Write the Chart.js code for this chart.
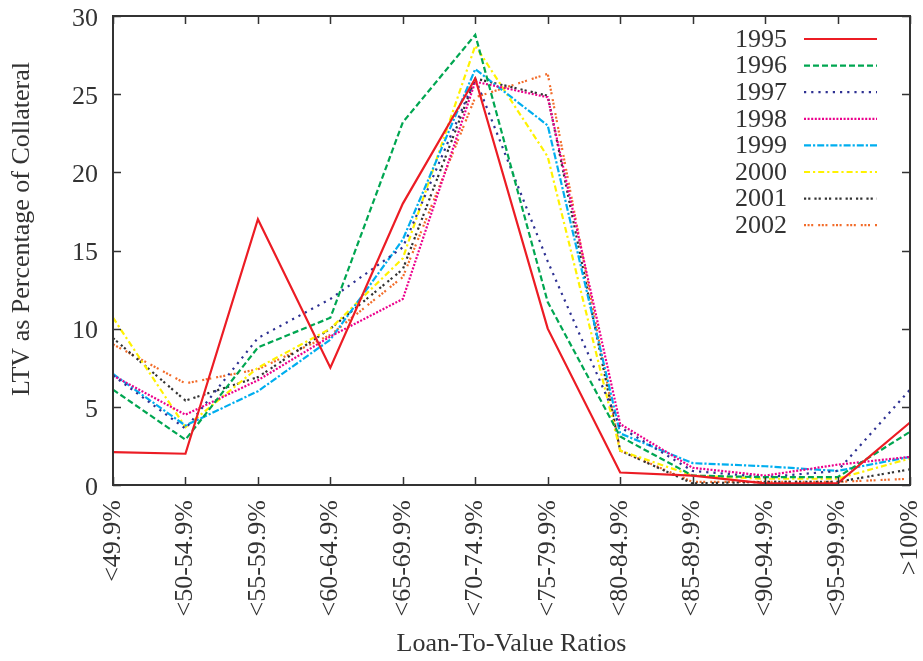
<!DOCTYPE html>
<html>
<head>
<meta charset="utf-8">
<script src="https://cdn.jsdelivr.net/npm/chart.js@4/dist/chart.umd.min.js"></script>
<style>
html,body{margin:0;padding:0;background:#fff;}
canvas{display:block;}
</style>
</head>
<body>
<canvas id="c" width="923" height="661"></canvas>
<script>
const categories = ['<49.9%','<50-54.9%','<55-59.9%','<60-64.9%','<65-69.9%','<70-74.9%','<75-79.9%','<80-84.9%','<85-89.9%','<90-94.9%','<95-99.9%','>100%'];
const seriesNames = ['1995','1996','1997','1998','1999','2000','2001','2002'];
const y1995 = [2.1, 2.0, 17.0, 7.5, 18.0, 26.0, 10.0, 0.8, 0.6, 0.1, 0.1, 4.0];
const y1996 = [6.1, 2.9, 8.8, 10.7, 23.2, 28.8, 11.7, 3.1, 0.6, 0.5, 0.5, 3.4];
const y1997 = [7.0, 3.6, 9.4, 11.9, 15.2, 26.0, 14.3, 3.7, 0.9, 0.5, 0.9, 6.1];
const y1998 = [7.0, 4.5, 6.7, 9.5, 11.9, 25.8, 24.8, 3.9, 1.1, 0.6, 1.3, 1.8];
const y1999 = [7.1, 3.8, 6.0, 9.3, 15.7, 26.6, 23.0, 3.3, 1.4, 1.2, 0.9, 1.8];
const y2000 = [10.7, 3.7, 7.5, 10.0, 14.5, 28.1, 21.0, 2.2, 0.6, 0.4, 0.4, 1.7];
const y2001 = [9.4, 5.4, 6.9, 10.0, 13.8, 26.0, 24.9, 2.2, 0.1, 0.2, 0.2, 1.0];
const y2002 = [9.0, 6.5, 7.4, 9.6, 13.3, 24.8, 26.3, 2.2, 0.2, 0.2, 0.2, 0.4];
const seriesValues = [y1995, y1996, y1997, y1998, y1999, y2000, y2001, y2002];
const yTicks = [0, 5, 10, 15, 20, 25, 30];

const colors = ['#ec1c24','#00a651','#2e3192','#ec008c','#00aeef','#fff200','#333333','#f26c2a'];
const dashes = [[], [6,3], [2.2,5], [2,1.6], [7,2,2.2,2], [6,3,2.2,3], [2.2,2,2.2,4], [2,1.6,2,1.6,2,5]];

const FONT = '"Liberation Serif", "Times New Roman", serif';
const TXT = '#333333';

const framePlugin = {
  id: 'frame',
  afterDraw(chart) {
    const ctx = chart.ctx;
    const a = chart.chartArea;
    const xs = chart.scales.x, ys = chart.scales.y;
    ctx.save();
    ctx.strokeStyle = '#333333';
    ctx.lineWidth = 1.5;
    ctx.setLineDash([]);
    ctx.beginPath();
    for (let i = 0; i < categories.length; i++) {
      const px = Math.round(xs.getPixelForValue(i)) + 0.5;
      ctx.moveTo(px, a.bottom); ctx.lineTo(px, a.bottom - 8);
      ctx.moveTo(px, a.top); ctx.lineTo(px, a.top + 8);
    }
    for (const v of yTicks) {
      const py = Math.round(ys.getPixelForValue(v)) + 0.5;
      ctx.moveTo(a.left, py); ctx.lineTo(a.left + 8, py);
      ctx.moveTo(a.right, py); ctx.lineTo(a.right - 8, py);
    }
    ctx.stroke();
    ctx.lineWidth = 2;
    ctx.strokeRect(a.left, a.top, a.right - a.left, a.bottom - a.top);
    ctx.fillStyle = TXT;
    ctx.font = '26px ' + FONT;
    ctx.textAlign = 'center';
    ctx.textBaseline = 'middle';
    ctx.fillText('Loan-To-Value Ratios', (a.left + a.right) / 2, 644);
    ctx.save();
    ctx.translate(22, 229);
    ctx.rotate(-Math.PI / 2);
    ctx.fillText('LTV as Percentage of Collateral', 0, 0);
    ctx.restore();
    ctx.textAlign = 'right';
    for (let i = 0; i < seriesNames.length; i++) {
      const yy = 39 + i * 26.6;
      ctx.fillStyle = TXT;
      ctx.fillText(seriesNames[i], 787, yy + 1);
      ctx.strokeStyle = colors[i];
      ctx.lineWidth = 2.2;
      ctx.setLineDash(dashes[i]);
      ctx.beginPath();
      ctx.moveTo(804, yy); ctx.lineTo(877, yy);
      ctx.stroke();
    }
    ctx.restore();
  }
};

new Chart(document.getElementById('c'), {
  type: 'line',
  data: {
    labels: categories,
    datasets: seriesNames.map((n, i) => ({
      label: n,
      data: seriesValues[i],
      borderColor: colors[i],
      backgroundColor: colors[i],
      borderWidth: 2.2,
      borderDash: dashes[i],
      pointRadius: 0,
      tension: 0,
      fill: false
    }))
  },
  options: {
    responsive: false,
    animation: false,
    devicePixelRatio: 1,
    layout: { padding: { top: 16, right: 13, left: 0, bottom: 0 } },
    plugins: { legend: { display: false }, tooltip: { enabled: false } },
    scales: {
      x: {
        type: 'category',
        offset: false,
        grid: { display: false, drawTicks: false },
        border: { display: false },
        ticks: {
          autoSkip: false, maxRotation: 90, minRotation: 90, padding: 15,
          color: TXT, font: { family: FONT, size: 26 }
        },
        afterFit(s) { s.height = 176; s.paddingLeft = 0; s.paddingRight = 0; }
      },
      y: {
        min: 0, max: 30,
        grid: { display: false, drawTicks: false },
        border: { display: false },
        ticks: {
          stepSize: 5, padding: 15, labelOffset: 3,
          color: TXT, font: { family: FONT, size: 26 }
        },
        afterFit(s) { s.width = 113; s.paddingTop = 0; s.paddingBottom = 0; }
      }
    }
  },
  plugins: [framePlugin]
});
</script>
</body>
</html>
